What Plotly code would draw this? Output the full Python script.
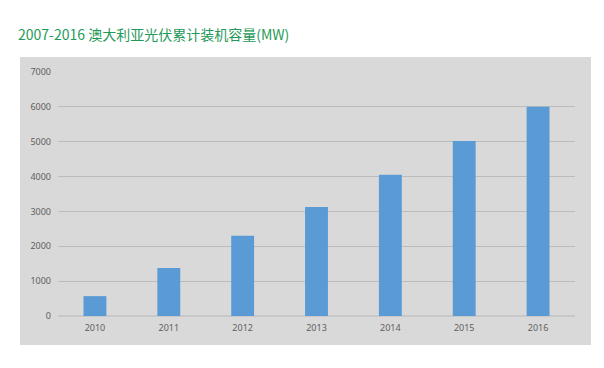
import plotly.graph_objects as go

years = ["2010", "2011", "2012", "2013", "2014", "2015", "2016"]
capacity = [570, 1380, 2300, 3130, 4050, 5020, 6000]
y_ticks = [0, 1000, 2000, 3000, 4000, 5000, 6000, 7000]
title_text = "2007-2016 澳大利亚光伏累计装机容量(MW)"

OFF = 8  # page body margin
W, H = 596, 360
L, T = 58 - OFF, 72 - OFF
R = W - (575 - OFF)
B = H - (316 - OFF)
pw, ph = W - L - R, H - T - B

def px_x(x):
    return (x - OFF - L) / pw

def px_y(y):
    return (H - B - (y - OFF)) / ph

fig = go.Figure(go.Bar(
    x=years, y=capacity,
    marker=dict(color="#5b9bd5", line=dict(width=0)),
    width=0.31,
))

fig.add_shape(type="rect", xref="paper", yref="paper",
              x0=px_x(20), x1=px_x(591), y0=px_y(345), y1=px_y(57),
              fillcolor="#d9d9d9", line=dict(width=0), layer="below")

fig.update_layout(
    width=W, height=H,
    margin=dict(l=L, r=R, t=T, b=B),
    paper_bgcolor="white",
    plot_bgcolor="rgba(0,0,0,0)",
    showlegend=False,
    title=dict(text=title_text, x=(18 - OFF) / W, xanchor="left", y=1 - (35 - OFF) / H, yanchor="middle",
               font=dict(family="Noto Sans CJK SC", size=14, color="#1f9a58")),
    font=dict(family="Noto Sans, sans-serif", size=9, color="#5f5f5f"),
)
fig.update_xaxes(showgrid=False, showline=False, ticks="", ticklabelstandoff=5,
                 tickfont=dict(size=9, color="#5f5f5f"))
fig.update_yaxes(range=[0, 7000], tickvals=y_ticks, showgrid=True, gridcolor="#bcbcbc",
                 gridwidth=1, zeroline=True, zerolinecolor="#c8c8c8", showline=False,
                 ticks="", ticklabelstandoff=6, tickfont=dict(size=9, color="#5f5f5f"))

fig.write_html("out.html")
